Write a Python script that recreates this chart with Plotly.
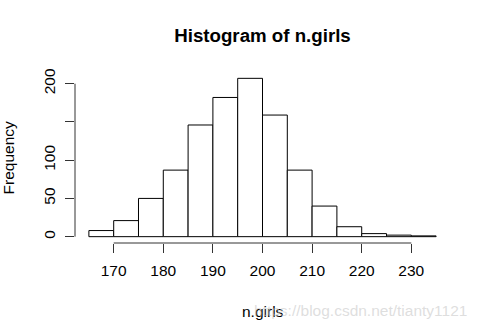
import plotly.graph_objects as go

# Data
bin_starts = [165, 170, 175, 180, 185, 190, 195, 200, 205, 210, 215, 220, 225, 230]
counts = [8, 21, 50, 87, 146, 182, 207, 159, 87, 40, 13, 4, 2, 1]
bin_width = 5
x_ticks = [170, 180, 190, 200, 210, 220, 230]
y_ticks = [0, 50, 100, 150, 200]
y_tick_labels = ["0", "50", "100", "", "200"]
title_text = "Histogram of n.girls"
x_label = "n.girls"
y_label = "Frequency"
watermark = "https://blog.csdn.net/tianty1121"

mids = [b + bin_width / 2 for b in bin_starts]
font = "Liberation Sans, Arial, Helvetica, sans-serif"

lo, hi = bin_starts[0], bin_starts[-1] + bin_width
xpad = (hi - lo) * 0.04
ymax = max(counts)
ypad = ymax * 0.04

fig = go.Figure(go.Bar(
    x=mids, y=counts, width=[bin_width] * len(mids),
    marker=dict(color="white", line=dict(color="black", width=1)),
    hoverinfo="skip",
))

fig.update_layout(
    width=477, height=326,
    margin=dict(l=75, r=27, t=72, b=83),
    plot_bgcolor="white", paper_bgcolor="white",
    showlegend=False,
    font=dict(family=font, size=15.5, color="black"),
    title=dict(text="<b>" + title_text + "</b>", x=0.5, xref="paper",
               y=1 - 35 / 326, yref="container", xanchor="center", yanchor="middle",
               font=dict(size=18.7, family=font, color="black")),
    xaxis=dict(range=[lo - xpad, hi + xpad], tickvals=x_ticks, ticks="outside",
               ticklen=9, tickwidth=1, tickcolor="#333", showgrid=False, zeroline=False,
               showline=False, ticklabelstandoff=4, tickfont=dict(size=15.5)),
    yaxis=dict(range=[-ypad, ymax + ypad], tickvals=y_ticks, ticktext=y_tick_labels,
               ticks="outside",
               ticklen=9, tickwidth=1, tickcolor="#333", showgrid=False, zeroline=False,
               showline=False, tickangle=-90, ticklabelstandoff=4, tickfont=dict(size=15.5)),
    shapes=[
        dict(type="line", xref="x", yref="paper", x0=x_ticks[0], x1=x_ticks[-1], y0=0, y1=0,
             line=dict(color="#333", width=1)),
        dict(type="line", xref="paper", yref="y", x0=0, x1=0, y0=y_ticks[0], y1=y_ticks[-1],
             line=dict(color="#333", width=1)),
    ],
    annotations=[
        dict(text=x_label, xref="paper", yref="paper", x=0.5, y=-(312 - 243) / 171.4,
             xanchor="center", yanchor="middle", showarrow=False, font=dict(size=15.5)),
        dict(text=y_label, xref="paper", yref="paper", x=-(74.6 - 8.5) / 375.1, y=0.5,
             xanchor="center", yanchor="middle", textangle=-90, showarrow=False,
             font=dict(size=15.5)),
        dict(text=watermark, xref="paper", yref="paper", x=(469 - 74.6) / 375.1,
             y=-(311 - 243) / 171.4, xanchor="right", yanchor="middle", showarrow=False,
             font=dict(size=15.5, color="rgba(200,200,200,0.6)")),
    ],
)

fig.write_html("out.html")
